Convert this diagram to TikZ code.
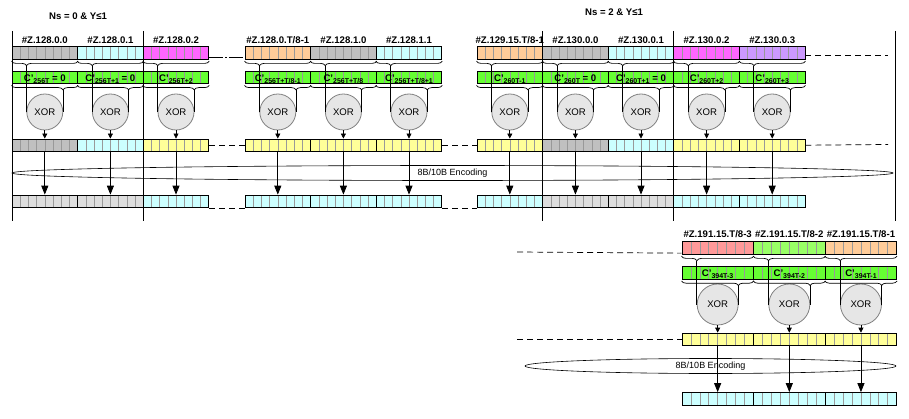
\documentclass[tikz,border=0pt]{standalone}
\usepackage{fontspec}
\setmainfont{Liberation Sans}
\usetikzlibrary{shapes.geometric, arrows.meta, calc, decorations.pathreplacing}
\definecolor{zgray}{HTML}{C0C0C0}
\definecolor{zcyan}{HTML}{CCFFFF}
\definecolor{zmagenta}{HTML}{FF66FF}
\definecolor{zorange}{HTML}{FFCC99}
\definecolor{zpurple}{HTML}{CC99FF}
\definecolor{zyellow}{HTML}{FFFF99}
\definecolor{zlight}{HTML}{DDDDDD}
\definecolor{zgreen}{HTML}{66FF33}
\definecolor{zpink}{HTML}{FF9999}
\definecolor{zlime}{HTML}{99FF66}
\definecolor{xorfill}{HTML}{E6E6E6}
\tikzstyle{cellbox} = [rectangle, draw=black, line width=0.9pt, minimum width=65.6pt, minimum height=12.4pt, inner sep=0pt,
    path picture={\foreach \k in {1,...,7} \draw[gray!80, line width=0.6pt] ($(path picture bounding box.south west)!\k/8!(path picture bounding box.south east)$) -- ($(path picture bounding box.north west)!\k/8!(path picture bounding box.north east)$);}]
\tikzstyle{wide} = [minimum width=71.3pt]
\tikzstyle{idxbox} = [fill=zgreen, text height=8.4pt, text depth=0pt, font=\bfseries\fontsize{9.6}{10}\selectfont]
\tikzstyle{zlabel} = [inner sep=0pt, font=\bfseries\fontsize{9.6}{10}\selectfont]
\tikzstyle{xorgate} = [circle, draw=gray, fill=xorfill, line width=0.8pt, minimum size=36pt, inner sep=0pt, font=\fontsize{9.6}{10}\selectfont]
\tikzstyle{coder} = [ellipse, draw=black, line width=0.6pt, inner sep=0pt, minimum height=15pt, font=\fontsize{9}{10}\selectfont]
\tikzstyle{brc} = [decorate, decoration={brace, mirror, amplitude=4.5pt}, line width=0.7pt]
\tikzstyle{wire} = [line width=0.8pt, color=black]
\tikzstyle{xorarrow} = [line width=0.7pt, -{Triangle[width=5pt,length=5pt]}]
\tikzstyle{encarrow} = [line width=0.8pt, -{Triangle[width=7pt,length=9pt]}]
\tikzstyle{gap} = [line width=0.7pt, dash pattern=on 6pt off 4pt]
\tikzstyle{gapdot} = [line width=0.7pt, dash pattern=on 14pt off 2pt on 1.5pt off 2pt]
\newcommand{\lowidx}[1]{\raisebox{-2.2pt}{\fontsize{7}{7}\selectfont #1}}

\begin{document}
\begin{tikzpicture}[x=1pt, y=1pt]
    \useasboundingbox (0,0) rectangle (909,-419);

    % titles
    \node (ns0) [zlabel, anchor=base] at (78,-19.3) {Ns = 0 \& Y≤1};
    \node (ns2) [zlabel, anchor=base] at (614,-15.7) {Ns = 2 \& Y≤1};

    % separators
    \foreach \sx in {12,143,542,673,895}
        \draw [wire] (\sx,-31) -- (\sx,-221);

    % encoders
    \node (enc) [coder, minimum width=881pt] at (452.5,-173) {8B/10B Encoding};
    \node (enc2) [coder, minimum width=371pt] at (710.5,-366) {8B/10B Encoding};

    % upper columns
    \foreach \n/\x/\lab/\ca/\sb/\val/\cb/\cc in {
        1/44.8/{128.0.0}/zgray/{256T}/{~= 0}/zgray/zlight,
        2/110.4/{128.0.1}/zcyan/{256T+1}/{~= 0}/zcyan/zlight,
        3/176/{128.0.2}/zmagenta/{256T+2}/{}/zyellow/zcyan,
        4/277.8/{128.0.T/8-1}/zorange/{256T+T/8-1}/{}/zyellow/zcyan,
        5/343.4/{128.1.0}/zgray/{256T+T/8}/{}/zyellow/zcyan,
        6/409/{128.1.1}/zcyan/{256T+T/8+1}/{}/zyellow/zcyan,
        7/509.8/{129.15.T/8-1}/zorange/{260T-1}/{}/zyellow/zcyan,
        8/575.4/{130.0.0}/zgray/{260T}/{~= 0}/zgray/zlight,
        9/641/{130.0.1}/zcyan/{260T+1}/{~= 0}/zcyan/zlight,
        10/706.6/{130.0.2}/zmagenta/{260T+2}/{}/zyellow/zcyan,
        11/772.2/{130.0.3}/zpurple/{260T+3}/{}/zyellow/zcyan}
    {
        \node (l\n) [zlabel, anchor=base] at (\x,-43.5) {\#Z.\lab};
        \node (d\n) [cellbox, fill=\ca] at (\x,-53) {};
        \node (c\n) [cellbox, idxbox] at (\x,-77.2) {C'\lowidx{\sb}\val};
        \node (x\n) [xorgate] at (\x,-112) {XOR};
        \node (m\n) [cellbox, fill=\cb] at (\x,-145.2) {};
        \node (e\n) [cellbox, fill=\cc] at (\x,-201.3) {};
        \draw [brc, decoration={aspect=0.226}] ([yshift=-1.5pt]d\n.south west) -- ([yshift=-1.5pt]d\n.south east);
        \draw [brc, decoration={aspect=0.774}] ([yshift=-1.5pt]c\n.south west) -- ([yshift=-1.5pt]c\n.south east);
        \draw [wire] (x\n.west) -- ($(x\n.west |- d\n.south)+(0,-6)$);
        \draw [wire] (x\n.east) -- ($(x\n.east |- c\n.south)+(0,-6)$);
        \draw [xorarrow] (x\n.south) -- (m\n.north);
        \draw [encarrow] (m\n.south) -- (e\n.north);
    }

    % lower columns
    \foreach \n/\x/\lab/\ca/\sb in {
        12/717.65/{191.15.T/8-3}/zpink/{394T-3},
        13/789.3/{191.15.T/8-2}/zlime/{394T-2},
        14/860.95/{191.15.T/8-1}/zorange/{394T-1}}
    {
        \node (l\n) [zlabel, anchor=base] at (\x,-237.7) {\#Z.\lab};
        \node (d\n) [cellbox, wide, fill=\ca] at (\x,-248) {};
        \node (c\n) [cellbox, wide, idxbox, minimum height=13pt] at (\x,-272.5) {C'\lowidx{\sb}};
        \node (x\n) [xorgate, minimum size=41pt] at (\x,-304.5) {XOR};
        \node (m\n) [cellbox, wide, fill=zyellow] at (\x,-339.3) {};
        \node (e\n) [cellbox, wide, fill=zcyan] at (\x,-398.8) {};
        \draw [brc, decoration={aspect=0.2125}] ([yshift=-1.5pt]d\n.south west) -- ([yshift=-1.5pt]d\n.south east);
        \draw [brc, decoration={aspect=0.7875}] ([yshift=-1.5pt]c\n.south west) -- ([yshift=-1.5pt]c\n.south east);
        \draw [wire] (x\n.west) -- ($(x\n.west |- d\n.south)+(0,-6)$);
        \draw [wire] (x\n.east) -- ($(x\n.east |- c\n.south)+(0,-6)$);
        \draw [xorarrow] (x\n.south) -- (m\n.north);
        \draw [encarrow] (m\n.south) -- (e\n.north);
    }

    % gaps
    \coordinate (tailA) at (888,-55);
    \coordinate (tailB) at (888,-144.5);
    \coordinate (headA) at (517,-252);
    \draw [gapdot] ($(d3.south east)+(0,1.8)$) -- ($(d4.south west)+(0,1.8)$);
    \draw [gap] (m3.east) -- (m4.west);
    \draw [gap] (e3.south east) -- (e4.south west);
    \draw [gap] (m6.east) -- (m7.west);
    \draw [gap] (e6.south east) -- (e7.south west);
    \draw [gap] ($(d11.east)+(0,-2)$) -- (tailA);
    \draw [gap] (m11.east) -- (tailB);
    \draw [gap] (headA) -- ($(d12.south west)+(0,1.5)$);
    \draw [gap] (headA |- m12.west) -- (m12.west);
\end{tikzpicture}
\end{document}
